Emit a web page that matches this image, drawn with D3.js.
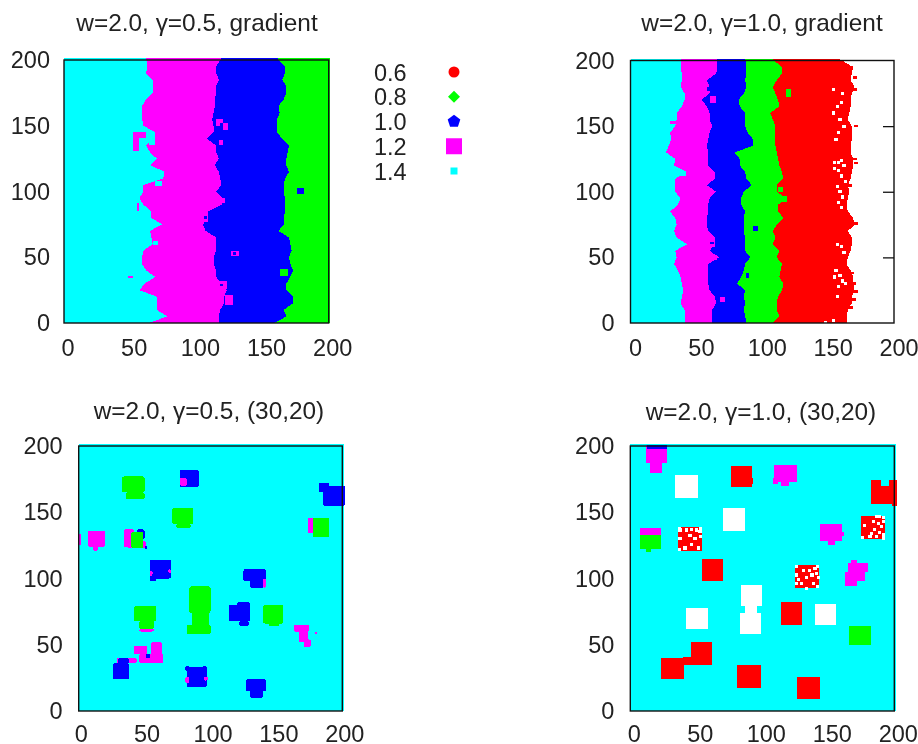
<!DOCTYPE html>
<html>
<head>
<meta charset="utf-8">
<script src="https://cdn.jsdelivr.net/npm/d3@7"></script>
<style>
html, body { margin: 0; padding: 0; background: #fff; }
svg { display: block; filter: blur(0.45px); }
text { font-family: "Liberation Sans", Arial, sans-serif; fill: #222; }
</style>
</head>
<body>
<svg id="chart" width="918" height="744"></svg>
<script>
var colors = { 0.6: "#ff0000", 0.8: "#00ff00", 1.0: "#0000ff", 1.2: "#ff00ff", 1.4: "#00ffff", w: "#ffffff" };
var tickValues = [0, 50, 100, 150, 200];
var legendLabels = ["0.6", "0.8", "1.0", "1.2", "1.4"];
var legendKeys = [0.6, 0.8, 1.0, 1.2, 1.4];

// gradient panels, one row per y: y, then where each colour ends
var rowsA = [
    [0,64,117,159],[5,78,117,168],[10,70,118,166],[15,70,121,173],[20,70,121,173],[25,57,123,168],
    [30,61,119,168],[35,69,115,171],[40,62,115,173],[45,59,113,171],[50,59,113,170],[55,60,115,172],
    [60,67,115,171],[65,66,115,170],[70,65,107,162],[75,74,105,166],[80,66,109,166],[85,66,109,167],
    [90,60,119,167],[95,57,120,167],[100,60,115,166],[105,60,119,166],[110,75,118,167],[115,76,117,170],
    [120,65,114,168],[125,70,117,168],[130,65,115,169],[135,62,115,170],[140,67,108,165],[145,69,113,161],
    [150,60,113,161],[155,59,112,161],[160,59,113,163],[165,59,114,162],[170,62,114,166],[175,67,115,168],
    [180,67,115,168],[185,67,117,165],[190,62,115,167],[195,63,115,167],[201.5,62,119,161]
];
var bandKeysA = [1.4, 1.2, 1.0];
var patchesA = [
    [122,128,14,21,1.2],[116,123,26,32,1.2],[115,120,150,155,1.2],[120,124,147,152,1.2],[117,120,135,139,1.2],
    [118,122,91,95,1.2],[104,109,77,82,1.2],[126,132,51,55,1.2],[52,62,141,145,1.2],[52,57,131,141,1.2],[48,52,34,36,1.2],
    [55,57,85,91,1.2],[69,74,104,108,1.4],[67,71,59,62,1.4],[64,69,135,145,1.4],[128,130,52,54,1.0],
    [118,120,150,152,1.0],[106,108,79,81,1.0],[118,120,28,30,1.0],[176,181,98,103,1.0],[163,169,36,41,0.8]
];

var rowsB = [
    [0,41,62,88,108,164],[5,41,62,87,113,164],[10,41,62,86,111,165],[15,38,65,87,111,168],[20,39,64,86,112,168],
    [25,40,60,87,115,170],[30,39,59,81,116,169],[35,38,59,84,113,169],[40,36,59,86,114,167],[45,33,59,87,115,164],
    [50,35,67,91,111,165],[55,34,60,87,113,167],[60,43,64,87,108,168],[65,35,64,87,110,168],[70,33,59,86,108,165],
    [75,35,58,86,111,170],[80,34,58,86,116,169],[85,30,59,87,112,165],[90,36,59,84,112,164],[95,38,60,84,118,165],
    [100,34,65,86,111,166],[105,34,58,92,111,165],[110,34,64,88,116,167],[115,43,64,87,115,168],[120,33,59,83,113,169],
    [125,34,59,83,112,169],[130,27,59,79,111,167],[135,29,58,93,110,167],[140,31,59,93,110,168],[145,30,60,89,110,168],
    [150,34,62,87,110,168],[155,35,60,87,108,165],[160,35,60,87,106,166],[165,39,58,83,113,167],[170,41,54,82,112,167],
    [175,41,60,86,110,168],[180,38,60,88,108,170],[185,39,58,87,111,167],[190,39,65,88,115,168],[195,38,66,88,115,169],
    [201.5,38,66,87,107,158]
];
var bandKeysB = [1.4, 1.2, 1.0, 0.8, 0.6];
var patchesB = [
    [68,72,16,20,1.2],[62,66,48,52,1.2],[60,64,58,62,1.2],[60,65,168,173,1.2],[58,61,177,180,1.0],[60,63,60,62,1.0],
    [113,119,92,97,0.8],[118,122,172,178,0.8],[112,116,100,104,0.8],[93,97,70,74,1.0],[88,90,34,38,1.0],
    [36,42,112,116,1.4],[31,33,128,134,1.2],[30,35,152,154,1.2]
];
var specksB = [
    [155,122],[158,122],[160,124],[162,120],[155,118],[158,116],[160,112],[163,108],[157,104],[159,100],[161,96],
    [158,92],[160,88],[154,160],[157,165],[160,168],[159,155],[162,150],[158,145],[156,140],[161,175],[154,178],
    [157,60],[160,58],[162,54],[156,40],[159,36],[161,32],[158,28],[163,30],[155,35],[157,20],[154,2],[148,0]
];
var crumbsB = [
    [172,76],[172,24],[171,125],[172,122],[172,150],[171,187],[171,178],[170,30],[168,12],[169,38],
    [170,18],[168,195],[167,105],[167,62],[160,199]
];

var patchesC = [
    [33,50,165,177,0.8],[36,50,160,165,0.8],[77,91,169,182,1.0],[77,82,170,176,1.2],[185,202,155,170,1.0],[182,190,165,172,1.0],
    [71,87,141,153,0.8],[74,85,138,141,0.8],[174,180,134,146,1.2],[178,190,131,146,0.8],[7,20,124,136,1.2],[11,15,121,124,1.2],
    [0,2,125,134,1.2],[34,42,124,137,1.2],[37,51,123,128,1.2],[44,50,130,137,1.0],[40,49,123,135,0.8],[50,52,122,125,1.0],
    [54,70,100,114,1.0],[54,59,98,104,1.0],[54,56,102,106,1.2],[68,70,104,107,1.2],[125,142,98,107,1.0],[130,140,93,100,1.0],[140,142,93,100,1.2],
    [84,100,74,94,0.8],[86,99,65,74,0.8],[82,100,58,65,0.8],[114,130,68,80,1.0],[122,129,64,68,1.0],[120,130,78,82,1.0],
    [140,155,66,80,0.8],[144,152,64,66,0.8],[42,59,68,79,0.8],[46,57,62,68,0.8],[46,57,60,62,1.2],[163,175,60,65,1.2],
    [167,174,52,60,1.2],[171,176,48,54,1.2],[179,181,58,60,1.2],[42,52,43,49,1.2],[55,63,40,52,1.2],[46,64,36,43,1.2],
    [29,44,36,40,1.2],[26,38,24,36,1.0],[30,38,36,40,1.0],[82,97,18,33,1.0],[81,84,30,34,1.0],[94,97,30,34,1.0],[95,98,23,26,1.2],
    [81,84,21,26,1.2],[127,142,15,24,1.0],[130,140,10,15,1.0],[51,54,40,43,1.0]
];

var patchesD = [
    [12,28,187,201,1.2],[15,24,180,187,1.2],[13,28,198,201,1.0],[76,92,169,185,0.6],[92,93,171,176,0.6],[34,51,161,178,"w"],
    [109,126,173,186,1.2],[114,120,170,173,1.2],[108,112,171,176,1.2],[182,190,156,174,0.6],[190,196,156,170,0.6],[196,202,156,174,0.6],[198,202,155,158,0.6],
    [70,87,136,153,"w"],[175,193,130,147,0.6],[144,160,128,141,1.2],[150,155,125,128,1.2],[155,162,132,135,1.2],
    [7,23,122,133,0.8],[12,16,120,122,0.8],[7,23,133,138,1.2],[36,54,121,139,0.6],[54,70,98,115,0.6],[125,143,93,110,0.6],
    [163,172,94,105,1.2],[165,180,105,112,1.2],[167,172,112,114,1.2],[172,178,98,105,1.2],[84,100,79,95,"w"],[87,96,74,79,"w"],[83,99,58,74,"w"],
    [42,59,62,78,"w"],[114,130,65,82,0.6],[140,156,65,81,"w"],[166,182,50,64,0.8],[46,62,35,52,0.6],[40,46,35,41,0.6],[23,41,24,40,0.6],
    [81,99,17,35,0.6],[126,144,9,26,0.6]
];
var specksD = [
    [42.7,136.6],[46.5,137],[50.3,136.6],[52.8,135.4],[53.3,131.7],[49,130.4],[37.6,130.4],[46.5,125.4],[41.5,123],[51.5,123],[37.6,136.6],[45.2,132.6],
    [37,122],[53,138],[37,138],
    [126,102.7],[127.3,99],[126,96.3],[131,106],[136,106],[139.9,107.6],[133.6,101],[137.6,102.7],[142.6,101],[138.6,96.3],[133.6,92.6],[130,96],[141,104],
    [126,109],[142,94],[142,109],
    [186.6,146.6],[189,146.6],[184,143],[188,141.6],[191.7,143],[190.5,139],[185,137],[189,135],[183,134],[181.6,131.6],[186.6,131.6],[191.7,133],[177.7,140],[191.7,130.5],
    [176,131],[192,146]
];

var panels = [
    { title: "w=2.0, γ=0.5, gradient", left: 64, right: 328.7, top: 60, bottom: 323, titleX: 197, titleY: 31, labelDx: 3.5, padY: 14, padX: 16, base: 0.8, baseRight: 201, rows: rowsA, bandKeys: bandKeysA, patches: patchesA, round: 0, specks: [], crumbs: [] },
    { title: "w=2.0, γ=1.0, gradient", left: 630.5, right: 894, top: 60.5, bottom: 323, titleX: 762, titleY: 31, labelDx: 4.5, padY: 16, padX: 16, rows: rowsB, bandKeys: bandKeysB, patches: patchesB, round: 0, specks: specksB, crumbs: crumbsB },
    { title: "w=2.0, γ=0.5, (30,20)", left: 78.7, right: 342.3, top: 446, bottom: 711, titleX: 209, titleY: 419, labelDx: 2, padY: 16, padX: 14, base: 1.4, baseRight: 201.5, rows: [], bandKeys: [], patches: patchesC, round: 1.5, specks: [], crumbs: [] },
    { title: "w=2.0, γ=1.0, (30,20)", left: 630.3, right: 894.3, top: 446, bottom: 711, titleX: 761, titleY: 420, labelDx: 3.5, padY: 16, padX: 14, base: 1.4, baseRight: 201.5, rows: [], bandKeys: [], patches: patchesD, round: 0, specks: specksD, crumbs: [] }
];

var svg = d3.select("#chart");

function drawPanel(p) {
    var x = d3.scaleLinear().domain([0, 200]).range([p.left, p.right]);
    var y = d3.scaleLinear().domain([0, 200]).range([p.bottom, p.top]);
    var g = svg.append("g");

    g.append("text").attr("x", p.titleX).attr("y", p.titleY).attr("text-anchor", "middle")
        .style("font-size", "24.4px").text(p.title);

    // mirrored ticks first, the points sit on top of them
    var ax = [
        d3.axisLeft(y).tickSize(-11).tickPadding(p.padY),
        d3.axisRight(y).tickSize(-11).tickFormat(""),
        d3.axisBottom(x).tickSize(-11).tickPadding(p.padX),
        d3.axisTop(x).tickSize(-11).tickFormat("")
    ];
    var tr = ["translate(" + p.left + ",0)", "translate(" + p.right + ",0)", "translate(0," + p.bottom + ")", "translate(0," + p.top + ")"];
    ax.forEach(function(a, i) {
        var gAxis = g.append("g").attr("transform", tr[i]).call(a.tickValues(tickValues));
        gAxis.select(".domain").remove();
        gAxis.selectAll("line").attr("stroke", "#111").attr("stroke-width", 1.3)
            .filter(function(d) { return d == 0 || d == 200; }).remove();
        gAxis.selectAll("text").style("font-size", "23.5px").attr("fill", "#222").style("font-family", "Liberation Sans");
        if (i == 2) gAxis.selectAll("text").attr("dx", p.labelDx);
    });

    var marks = g.append("g").attr("shape-rendering", "crispEdges");

    if (p.base) {
        marks.append("rect").attr("x", x(0)).attr("y", y(201.5))
            .attr("width", x(p.baseRight) - x(0)).attr("height", y(0) - y(201.5)).attr("fill", colors[p.base]);
    }

    // widest band first, each narrower one painted over it
    d3.range(p.bandKeys.length - 1, -1, -1).forEach(function(k) {
        var band = d3.area()
            .y(function(d) { return y(d[0]); })
            .x0(x(0))
            .x1(function(d) { return x(d[k + 1]); });
        marks.append("path").attr("d", band(p.rows)).attr("fill", colors[p.bandKeys[k]]);
    });

    marks.selectAll("rect.crumb").data(p.crumbs).enter().append("rect").attr("class", "crumb")
        .attr("x", function(d) { return x(d[0] - 2); })
        .attr("y", function(d) { return y(d[1] + 1); })
        .attr("width", x(3) - x(0))
        .attr("height", y(0) - y(2))
        .attr("fill", colors[0.6]);

    marks.selectAll("rect.patch").data(p.patches).enter().append("rect").attr("class", "patch")
        .attr("x", function(d) { return x(d[0]); })
        .attr("y", function(d) { return y(d[3]); })
        .attr("width", function(d) { return x(d[1]) - x(d[0]); })
        .attr("height", function(d) { return y(d[2]) - y(d[3]); })
        .attr("rx", p.round)
        .attr("fill", function(d) { return colors[d[4]]; });

    marks.selectAll("rect.speck").data(p.specks).enter().append("rect").attr("class", "speck")
        .attr("x", function(d) { return x(d[0] - 1.2); })
        .attr("y", function(d) { return y(d[1] + 1.2); })
        .attr("width", x(2.4) - x(0))
        .attr("height", y(0) - y(2.4))
        .attr("fill", "#fff");

    g.append("rect").attr("x", p.left).attr("y", p.top)
        .attr("width", p.right - p.left).attr("height", p.bottom - p.top)
        .attr("fill", "none").attr("stroke", "#111").attr("stroke-width", 1.4);
}

panels.forEach(drawPanel);

// legend between the two top panels
var legendY = d3.scalePoint().domain(legendLabels).range([72, 171]);
var pentagon = {
    draw: function(ctx, size) {
        var r = Math.sqrt(size / 2.38);
        for (var i = 0; i < 5; i++) {
            var a = -Math.PI / 2 + i * 2 * Math.PI / 5;
            if (i == 0) ctx.moveTo(r * Math.cos(a), r * Math.sin(a));
            else ctx.lineTo(r * Math.cos(a), r * Math.sin(a));
        }
        ctx.closePath();
    }
};
var legendSymbols = [d3.symbolCircle, d3.symbolSquare, pentagon, d3.symbolSquare, d3.symbolSquare];
var legendSizes = [95, 72, 105, 256, 49];
var legendTurn = [0, 45, 0, 0, 0];
var legend = svg.append("g");
legendLabels.forEach(function(label, i) {
    legend.append("text").attr("x", 374).attr("y", legendY(label) + 8.5).style("font-size", "23.5px").text(label);
    legend.append("path").attr("transform", "translate(454," + legendY(label) + ") rotate(" + legendTurn[i] + ")")
        .attr("d", d3.symbol().type(legendSymbols[i]).size(legendSizes[i])())
        .attr("fill", colors[legendKeys[i]]);
});
</script>
</body>
</html>
